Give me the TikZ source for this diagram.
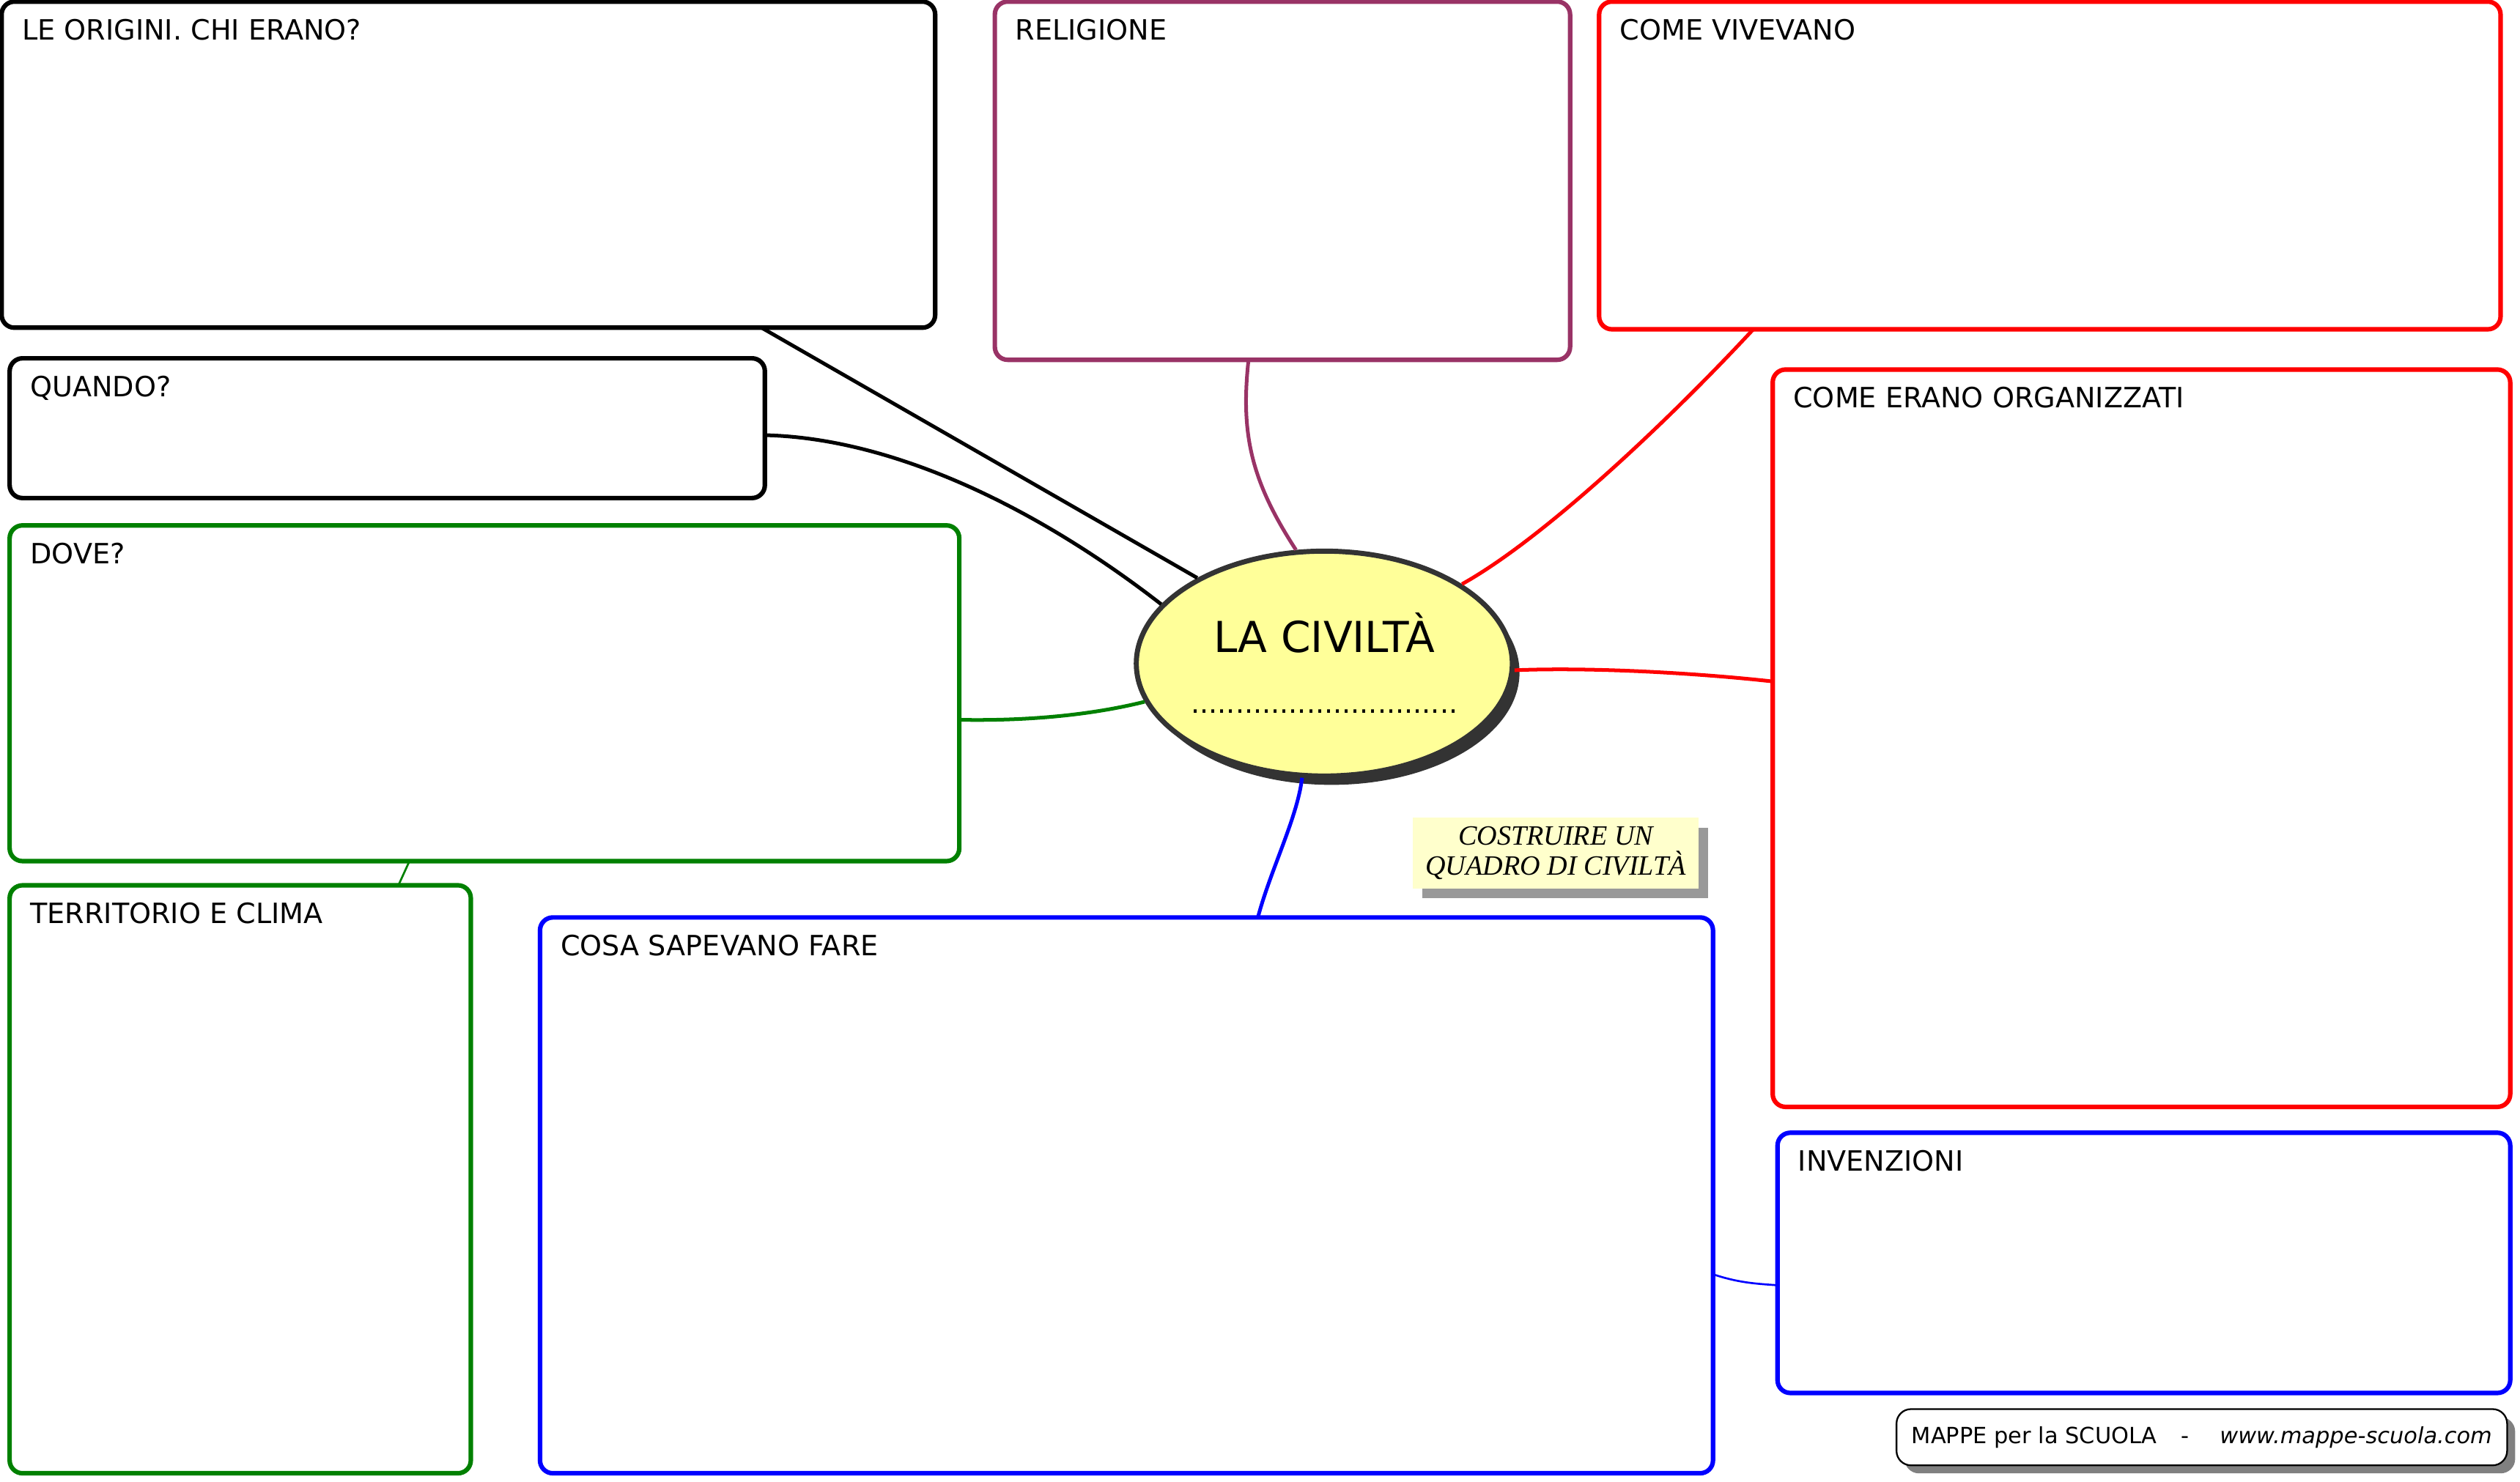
\documentclass[tikz,border=0pt]{standalone}
\usepackage{fontspec}
\usepackage{tikz}
\usetikzlibrary{shapes.geometric,shadows,calc}
\setmainfont{DejaVu Sans}
\newfontfamily\notefont{Liberation Serif}

\definecolor{purp}{RGB}{153,51,102}
\definecolor{grn}{RGB}{0,128,0}
\definecolor{civfill}{RGB}{255,255,153}
\definecolor{civline}{RGB}{51,51,51}
\definecolor{notefill}{RGB}{255,255,204}

\tikzset{
  box/.style={draw, line width=1.6pt, rounded corners=0.16cm, anchor=north west, inner sep=0pt, outer sep=0pt},
  head/.style={anchor=north west, inner sep=0pt, xshift=0.25cm, yshift=-0.21cm, font=\fontsize{9.9}{12}\selectfont},
  link/.style={line width=1.3pt},
  thinlink/.style={line width=0.7pt},
}

\begin{document}
\begin{tikzpicture}[x=0.02cm, y=-0.02cm]
\useasboundingbox (0,0) rectangle (1568,922);

%% boxes
\node[box, draw=black, minimum width=11.62cm, minimum height=4.06cm, label={[head]north west:LE ORIGINI. CHI ERANO?}] (origini) at (1,1) {};
\node[box, draw=purp, minimum width=7.16cm, minimum height=4.46cm, label={[head]north west:RELIGIONE}] (religione) at (619,1) {};
\node[box, draw=red, minimum width=11.22cm, minimum height=4.08cm, label={[head]north west:COME VIVEVANO}] (vivevano) at (995,1) {};
\node[box, draw=black, minimum width=9.40cm, minimum height=1.74cm, label={[head]north west:QUANDO?}] (quando) at (6,223) {};
\node[box, draw=red, minimum width=9.18cm, minimum height=9.18cm, label={[head]north west:COME ERANO ORGANIZZATI}] (organizzati) at (1103,230) {};
\node[box, draw=grn, minimum width=11.82cm, minimum height=4.18cm, label={[head]north west:DOVE?}] (dove) at (6,327) {};
\node[box, draw=grn, minimum width=5.74cm, minimum height=7.32cm, label={[head]north west:TERRITORIO E CLIMA}] (territorio) at (6,551) {};
\node[box, draw=blue, minimum width=14.60cm, minimum height=6.92cm, label={[head]north west:COSA SAPEVANO FARE}] (cosa) at (336,571) {};
\node[box, draw=blue, minimum width=9.12cm, minimum height=3.24cm, label={[head]north west:INVENZIONI}] (invenzioni) at (1106,705) {};

%% centre
\node[ellipse, draw=civline, fill=civfill, line width=1.8pt, minimum width=4.68cm, minimum height=2.8cm, inner sep=0pt,
  drop shadow={shadow xshift=0.09cm, shadow yshift=-0.11cm, fill=civline, opacity=1},
  label={[font=\fontsize{15.1}{18}\selectfont, yshift=0.38cm]center:LA CIVILTÀ},
  label={[font=\fontsize{9.9}{12}\selectfont, yshift=-0.6cm]center:..............................}] (civ) at (824,413) {};

%% note and footer
\node[fill=notefill, minimum width=3.56cm, minimum height=0.88cm, inner sep=0pt, align=center,
  font=\notefont\itshape\fontsize{9.9}{10.8}\selectfont,
  drop shadow={shadow xshift=0.12cm, shadow yshift=-0.12cm, fill=black!40, opacity=1}] (note) at (968,531) {COSTRUIRE UN\\QUADRO DI CIVILTÀ};
\node[draw=black, fill=white, line width=0.6pt, rounded corners=0.18cm, minimum width=7.6cm, minimum height=0.7cm, inner sep=0pt,
  font=\fontsize{7.9}{10}\selectfont,
  drop shadow={shadow xshift=0.1cm, shadow yshift=-0.1cm, fill=black!50, opacity=1}] (footer) at (1370,894.5)
  {MAPPE per la SCUOLA\hspace{0.3cm}-\hspace{0.38cm}\textit{www.mappe-scuola.com}};

%%% connectors
\draw[link] ($(origini.south west)!0.814!(origini.south east)$) -- (civ.146);
\draw[link] ($(quando.north east)!0.55!(quando.south east)$) .. controls +(84,2) and +(-72,-56) .. (civ.160);
\draw[link, draw=purp] ($(religione.south west)!0.441!(religione.south east)$) .. controls +(-5,46) and +(-28,-43) .. (civ.104);
\draw[link, draw=red] ($(vivevano.south west)!0.171!(vivevano.south east)$) .. controls +(-51,55) and +(52,-29) .. (civ.30);
\draw[link, draw=red] (civ.-2) .. controls +(50,-2) and +(-45,-5) .. ($(organizzati.north west)!0.423!(organizzati.south west)$);
\draw[link, draw=grn] ($(dove.north east)!0.579!(dove.south east)$) .. controls +(53,1) and +(-24,6) .. (civ.192);
\draw[link, draw=blue] (civ.259) .. controls +(-3,25) and +(8,-30) .. ($(cosa.north west)!0.612!(cosa.north east)$);
\draw[thinlink, draw=grn] ($(dove.south west)!0.421!(dove.south east)$) -- ($(territorio.north west)!0.843!(territorio.north east)$);
\draw[thinlink, draw=blue] ($(cosa.north east)!0.642!(cosa.south east)$) .. controls +(15,5) and +(-15,-1) .. ($(invenzioni.north west)!0.586!(invenzioni.south west)$);

\end{tikzpicture}
\end{document}
